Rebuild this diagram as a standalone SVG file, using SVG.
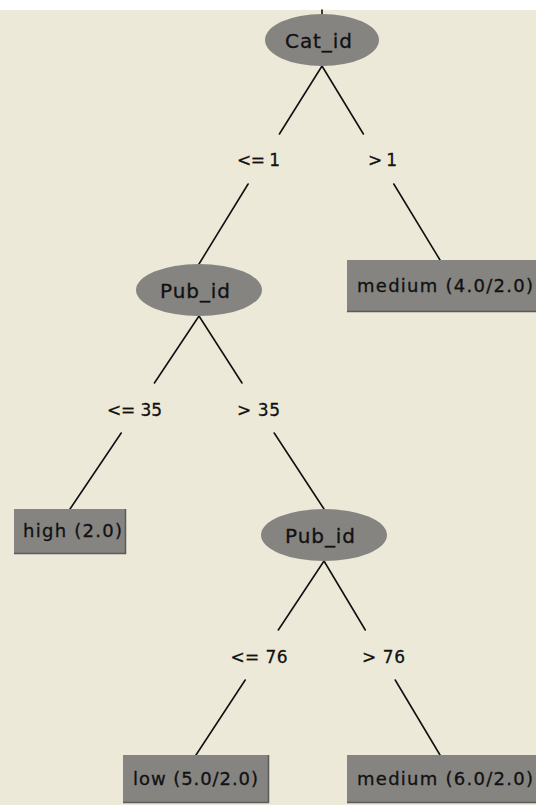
<svg xmlns="http://www.w3.org/2000/svg" width="536" height="805" viewBox="0 0 536 805">
  <style>
    .bg { fill: #ECE9D8; }
    .node { fill: #858481; }
    .shade { fill: none; stroke: #5a5a5a; stroke-width: 1.5; }
    .edge { stroke: #111; stroke-width: 1.6; fill: none; stroke-linecap: round; }
    .t { font-family: "DejaVu Sans", Verdana, sans-serif; fill: #111; stroke: #111; stroke-width: 0.3; }
    .nt { font-size: 20px; text-anchor: middle; }
    .lt { font-size: 18px; }
    .et { font-size: 17px; text-anchor: middle; }
  </style>

  <rect class="bg" x="0" y="0" width="536" height="805"/>
  <rect x="0" y="0" width="536" height="10" fill="#ffffff"/>

  <!-- edges, each broken around its test label -->
  <g id="edges">
    <line class="edge" x1="322" y1="10" x2="322" y2="14"/>
    <!-- Cat_id <= 1 -->
    <line class="edge" x1="322" y1="66" x2="279.4" y2="134"/>
    <line class="edge" x1="248.1" y1="184" x2="199" y2="264"/>
    <!-- Cat_id > 1 -->
    <line class="edge" x1="322" y1="66" x2="363.4" y2="134"/>
    <line class="edge" x1="393.8" y1="184" x2="440" y2="260"/>
    <!-- Pub_id <= 35 -->
    <line class="edge" x1="199" y1="316" x2="154.4" y2="383"/>
    <line class="edge" x1="121.2" y1="433" x2="70" y2="509"/>
    <!-- Pub_id > 35 -->
    <line class="edge" x1="199" y1="316" x2="242" y2="383"/>
    <line class="edge" x1="274.2" y1="433" x2="324" y2="509"/>
    <!-- Pub_id <= 76 -->
    <line class="edge" x1="324" y1="561" x2="278.3" y2="630"/>
    <line class="edge" x1="245.2" y1="680" x2="196" y2="755"/>
    <!-- Pub_id > 76 -->
    <line class="edge" x1="324" y1="561" x2="365.3" y2="630"/>
    <line class="edge" x1="395.2" y1="680" x2="440" y2="755"/>
  </g>

  <g id="edge-labels">
    <text class="t et" x="258.5" y="166" textLength="43" lengthAdjust="spacing">&lt;= 1</text>
    <text class="t et" x="382.5" y="166" textLength="29" lengthAdjust="spacing">&gt; 1</text>
    <text class="t et" x="134.5" y="416" textLength="55" lengthAdjust="spacing">&lt;= 35</text>
    <text class="t et" x="258.5" y="416" textLength="43" lengthAdjust="spacing">&gt; 35</text>
    <text class="t et" x="259" y="663" textLength="57" lengthAdjust="spacing">&lt;= 76</text>
    <text class="t et" x="383.5" y="663" textLength="43" lengthAdjust="spacing">&gt; 76</text>
  </g>

  <g id="node-cat-id">
    <ellipse class="node" cx="322" cy="40" rx="57" ry="26"/>
    <text class="t nt" x="318.5" y="48" textLength="67" lengthAdjust="spacing">Cat_id</text>
  </g>

  <g id="node-pub-id-1">
    <ellipse class="node" cx="199" cy="290" rx="63" ry="26"/>
    <text class="t nt" x="195" y="298" textLength="70" lengthAdjust="spacing">Pub_id</text>
  </g>

  <g id="node-pub-id-2">
    <ellipse class="node" cx="324" cy="535" rx="63" ry="26"/>
    <text class="t nt" x="320" y="543" textLength="70" lengthAdjust="spacing">Pub_id</text>
  </g>

  <g id="leaf-medium-1">
    <rect class="node" x="347" y="260" width="200" height="52"/>
    <path class="shade" d="M347 311.5 H547"/>
    <text class="t lt" x="357" y="292" textLength="176" lengthAdjust="spacing">medium (4.0/2.0)</text>
  </g>

  <g id="leaf-high">
    <rect class="node" x="14" y="509" width="112" height="45"/>
    <path class="shade" d="M14 553.5 H125.5 V509"/>
    <text class="t lt" x="23" y="537" textLength="99" lengthAdjust="spacing">high (2.0)</text>
  </g>

  <g id="leaf-low">
    <rect class="node" x="123" y="755" width="146" height="48"/>
    <path class="shade" d="M123 802.5 H268.5 V755"/>
    <text class="t lt" x="133" y="785" textLength="125" lengthAdjust="spacing">low (5.0/2.0)</text>
  </g>

  <g id="leaf-medium-2">
    <rect class="node" x="347" y="755" width="200" height="48"/>
    <path class="shade" d="M347 802.5 H547"/>
    <text class="t lt" x="357" y="785" textLength="176" lengthAdjust="spacing">medium (6.0/2.0)</text>
  </g>
</svg>
